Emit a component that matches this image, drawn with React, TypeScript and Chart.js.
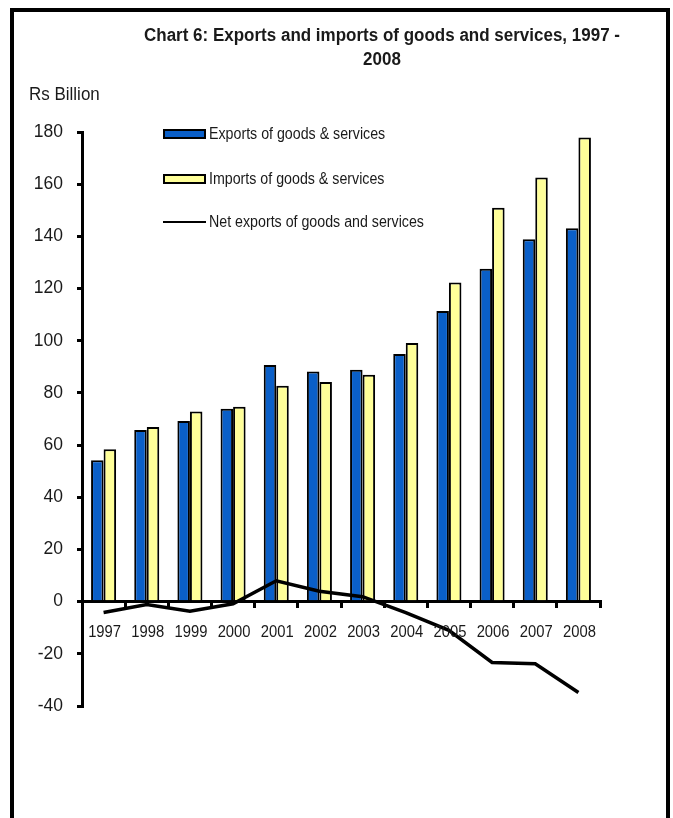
import React, { useEffect, useRef } from 'react';
import { Chart, registerables } from 'chart.js';

Chart.register(...registerables);

const TITLE_LINES = ['Chart 6: Exports and imports of goods and services, 1997 -', '2008'];
const Y_AXIS_LABEL = 'Rs Billion';

const YEARS = ['1997', '1998', '1999', '2000', '2001', '2002', '2003', '2004', '2005', '2006', '2007', '2008'];
const EXPORTS = [54.2, 65.8, 69.2, 73.9, 90.7, 88.2, 88.9, 94.9, 111.4, 127.6, 138.9, 143.1];
const IMPORTS = [58.4, 66.9, 72.9, 74.7, 82.7, 84.2, 87.0, 99.1, 122.3, 151.0, 162.6, 177.9];
const NET_EXPORTS = [-4.2, -1.1, -3.7, -0.8, 8.0, 4.0, 1.9, -4.2, -11.0, -23.3, -23.8, -34.8];

const SERIES_LABELS = [
  'Exports of goods & services',
  'Imports of goods & services',
  'Net exports of goods and services',
];

const Y_MIN = -40;
const Y_MAX = 180;
const Y_STEP = 20;

const BLUE = '#0A5FC8';
const YELLOW = '#FFFF99';
const SANS = '"Liberation Sans", Arial, sans-serif';
const TEXT = '#1a1a1a';

// draw text squeezed horizontally by factor sx
function drawText(ctx: CanvasRenderingContext2D, text: string, x: number, y: number, font: string, align: CanvasTextAlign, baseline: CanvasTextBaseline, sx: number) {
  ctx.save();
  ctx.font = font;
  ctx.textAlign = align;
  ctx.textBaseline = baseline;
  ctx.translate(x, y);
  ctx.scale(sx, 1);
  ctx.fillText(text, 0, 0);
  ctx.restore();
}

const decorPlugin = {
  id: 'decor',
  beforeDraw(chart: any) {
    const ctx = chart.ctx;
    ctx.save();
    ctx.fillStyle = '#ffffff';
    ctx.fillRect(0, 0, chart.width, chart.height);
    ctx.restore();
  },
  afterDraw(chart: any) {
    const ctx: CanvasRenderingContext2D = chart.ctx;
    ctx.save();
    // frame
    ctx.strokeStyle = '#000';
    ctx.lineWidth = 4;
    ctx.strokeRect(12, 10, 656, 840);

    ctx.fillStyle = TEXT;

    // title (two lines, centred), squeezed to the reference width
    const titleFont = `bold 17.5px ${SANS}`;
    ctx.font = titleFont;
    const tw = ctx.measureText(TITLE_LINES[0]).width;
    const tsx = 476 / tw;
    drawText(ctx, TITLE_LINES[0], 382, 41, titleFont, 'center', 'alphabetic', tsx);
    drawText(ctx, TITLE_LINES[1], 382, 65, titleFont, 'center', 'alphabetic', tsx);

    // axis unit label
    drawText(ctx, Y_AXIS_LABEL, 29, 100, `17.7px ${SANS}`, 'left', 'alphabetic', 0.96);

    // x category labels below the zero line
    const xs = chart.scales.x;
    const ys = chart.scales.y;
    const y0 = ys.getPixelForValue(0);
    xs.ticks.forEach((_t: any, i: number) => {
      const label = chart.data.labels[i];
      drawText(ctx, String(label), xs.getPixelForTick(i) + 1, y0 + 31, `17px ${SANS}`, 'center', 'middle', 0.87);
    });

    // legend
    const rows = [134, 179, 222];
    const ds = chart.data.datasets;
    ds.forEach((d: any, i: number) => {
      const y = rows[i];
      if (d.type === 'line') {
        ctx.strokeStyle = '#000';
        ctx.lineWidth = 2;
        ctx.beginPath();
        ctx.moveTo(163, y);
        ctx.lineTo(206, y);
        ctx.stroke();
      } else {
        ctx.fillStyle = d.backgroundColor;
        ctx.fillRect(164, y - 4, 41, 8);
        ctx.strokeStyle = '#000';
        ctx.lineWidth = 2;
        ctx.strokeRect(164, y - 4, 41, 8);
      }
      ctx.fillStyle = TEXT;
      drawText(ctx, d.label, 209, y + 1, `15.8px ${SANS}`, 'left', 'middle', 0.9);
    });
    ctx.restore();
  },
};

export default function App() {
  const ref = useRef<HTMLCanvasElement | null>(null);

  useEffect(() => {
    if (!ref.current) return;
    const chart = new Chart(ref.current, {
      type: 'bar',
      data: {
        labels: YEARS,
        datasets: [
          {
            type: 'bar',
            label: SERIES_LABELS[0],
            data: EXPORTS,
            backgroundColor: BLUE,
            borderColor: '#000',
            borderWidth: 2,
            categoryPercentage: 0.58,
            barPercentage: 1,
            order: 2,
          },
          {
            type: 'bar',
            label: SERIES_LABELS[1],
            data: IMPORTS,
            backgroundColor: YELLOW,
            borderColor: '#000',
            borderWidth: 2,
            categoryPercentage: 0.58,
            barPercentage: 1,
            order: 2,
          },
          {
            type: 'line',
            label: SERIES_LABELS[2],
            data: NET_EXPORTS,
            borderColor: '#000',
            backgroundColor: '#000',
            borderWidth: 3.5,
            pointRadius: 0,
            tension: 0,
            fill: false,
            order: 0,
          },
        ],
      } as any,
      options: {
        animation: false,
        responsive: false,
        layout: { padding: { left: 14, right: 73, top: 132, bottom: 112 } },
        plugins: {
          legend: { display: false },
          tooltip: { enabled: false },
          title: { display: false },
        },
        scales: {
          x: {
            position: { y: 0 } as any,
            offset: true,
            grid: {
              offset: true,
              drawOnChartArea: false,
              drawTicks: true,
              tickLength: 5,
              color: '#000',
              lineWidth: 3,
            },
            border: { display: true, color: '#000', width: 3 },
            ticks: { display: false, autoSkip: false, maxRotation: 0 },
            afterFit: (s: any) => {
              s.height = 0;
            },
          },
          y: {
            min: Y_MIN,
            max: Y_MAX,
            ticks: {
              stepSize: Y_STEP,
              font: { family: SANS, size: 17.5 },
              color: TEXT,
              padding: 14,
            },
            grid: {
              drawOnChartArea: false,
              tickLength: 5,
              color: '#000',
              lineWidth: 3,
            },
            border: { display: true, color: '#000', width: 3 },
            afterFit: (s: any) => {
              s.width = 68;
            },
          },
        } as any,
      },
      plugins: [decorPlugin],
    });
    return () => chart.destroy();
  }, []);

  return (
    <div style={{ position: 'absolute', left: 0, top: 0, width: 673, height: 818, background: '#fff' }}>
      <canvas ref={ref} width={673} height={818} style={{ display: 'block' }} />
    </div>
  );
}
